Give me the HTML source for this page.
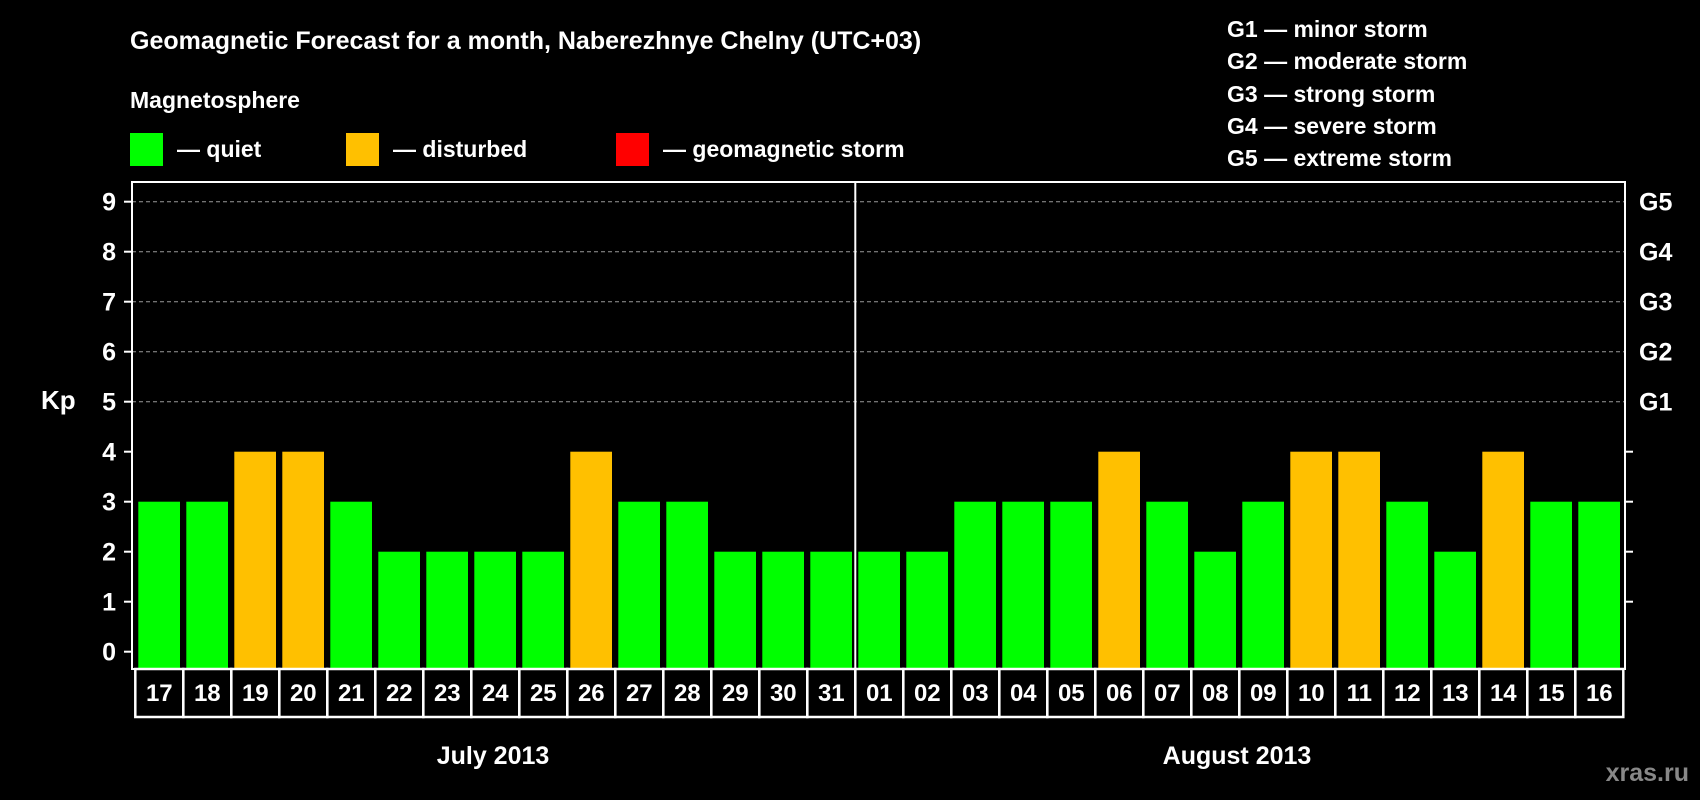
<!DOCTYPE html>
<html><head><meta charset="utf-8"><style>
html,body{margin:0;padding:0;background:#000;}
svg{display:block;font-family:"Liberation Sans",sans-serif;font-weight:bold;}
</style></head><body>
<svg id="chart" width="1700" height="800" viewBox="0 0 1700 800">
<rect x="0" y="0" width="1700" height="800" fill="#000"/>
<text x="130" y="49" fill="#fff" font-size="25">Geomagnetic Forecast for a month, Naberezhnye Chelny (UTC+03)</text>
<text x="130" y="108" fill="#fff" font-size="23">Magnetosphere</text>
<g><rect x="130" y="133" width="33" height="33" fill="#00ff00"/><text x="177" y="157" fill="#fff" font-size="23">— quiet</text></g>
<g><rect x="346" y="133" width="33" height="33" fill="#ffc000"/><text x="393" y="157" fill="#fff" font-size="23">— disturbed</text></g>
<g><rect x="616" y="133" width="33" height="33" fill="#ff0000"/><text x="663" y="157" fill="#fff" font-size="23">— geomagnetic storm</text></g>
<g fill="#fff" font-size="23">
<text x="1227" y="37">G1 — minor storm</text>
<text x="1227" y="69">G2 — moderate storm</text>
<text x="1227" y="102">G3 — strong storm</text>
<text x="1227" y="134">G4 — severe storm</text>
<text x="1227" y="166">G5 — extreme storm</text>
</g>
<text x="41" y="409" fill="#fff" font-size="26">Kp</text>
<text x="493" y="764" fill="#fff" font-size="25" text-anchor="middle">July 2013</text>
<text x="1237" y="764" fill="#fff" font-size="25" text-anchor="middle">August 2013</text>
<text x="1689" y="781" fill="#888" font-size="25" text-anchor="end">xras.ru</text>
<g id="plot"></g>
</svg>
<script>
const days = ["17","18","19","20","21","22","23","24","25","26","27","28","29","30","31","01","02","03","04","05","06","07","08","09","10","11","12","13","14","15","16"];
const kpValues = [3,3,4,4,3,2,2,2,2,4,3,3,2,2,2,2,2,3,3,3,4,3,2,3,4,4,3,2,4,3,3];
const yTicks = [0,1,2,3,4,5,6,7,8,9];
const gLabels = ["G1","G2","G3","G4","G5"];
const gLevels = [5,6,7,8,9];

const NS="http://www.w3.org/2000/svg";
const g=document.getElementById('plot');
const L=132,R=1625,T=182,B=669,slot0=135.3,sw=48;
const y=v=>651.7-50*v;
const x=i=>slot0+sw*i;
function mk(t,a){const e=document.createElementNS(NS,t);for(const k in a)e.setAttribute(k,a[k]);g.appendChild(e);return e;}
// gridlines
gLevels.forEach((v,i)=>{
 const l=mk('line',{x1:L,x2:R,y1:y(v),y2:y(v),stroke:'#999','stroke-dasharray':'4,3','stroke-width':1});
 
 
 const t=mk('text',{x:1639,y:y(v)+9,fill:'#fff','font-size':25});
 t.textContent=gLabels[i];
 
 
});
// bars
kpValues.forEach((v,i)=>{
 const c=v>=5?'#ff0000':(v>=4?'#ffc000':'#00ff00');
 const r=mk('rect',{x:x(i)+3,y:y(v),width:41.7,height:B-y(v),fill:c});
 
 
});
// y ticks
yTicks.forEach(v=>{
 mk('line',{x1:L-8,x2:L,y1:y(v),y2:y(v),stroke:'#fff','stroke-width':2});
 if(v>=1&&v<=4) mk('line',{x1:R,x2:R+8,y1:y(v),y2:y(v),stroke:'#fff','stroke-width':2});
 const t=mk('text',{x:116,y:y(v)+9,fill:'#fff','font-size':25,'text-anchor':'end'});
 t.textContent=v;
 
 
});
// frame
const f=mk('rect',{x:L,y:T,width:R-L,height:B-T,fill:'none',stroke:'#fff','stroke-width':2});


const d=mk('line',{x1:x(15),x2:x(15),y1:T,y2:B,stroke:'#fff','stroke-width':2});


// day label boxes
days.forEach((dd,i)=>{
 const r=mk('rect',{x:x(i),y:B,width:sw,height:48,fill:'none',stroke:'#fff','stroke-width':2.5});
 
 
 const t=mk('text',{x:x(i)+sw/2,y:701,fill:'#fff','font-size':24,'text-anchor':'middle'});
 t.textContent=dd;
 
 
});
</script>
</body></html>
